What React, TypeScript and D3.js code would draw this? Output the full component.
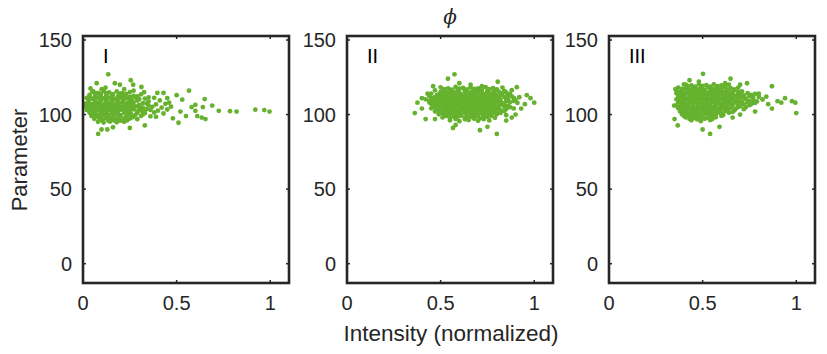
import React from "react"
import * as d3 from "d3"

// --- data ---
const xTicks = [0, 0.5, 1]
const yTicks = [0, 50, 100, 150]
const panelNames = ["I", "II", "III"]

const pointsI: [number, number][] = [
  [.05,115.3],[.08,114.6],[.11,115.8],[.14,114.9],[.18,115.5],[.21,114.4],[.25,115.1],
  [.035,113.2],[.065,112.6],[.095,113.5],[.125,112.8],[.155,113.4],[.19,112.7],[.23,113.1],[.27,112.5],[.31,113.6],
  [.02,111.1],[.05,110.6],[.08,111.4],[.11,110.8],[.14,111.2],[.17,110.5],[.2,111.3],[.24,110.9],[.28,111.5],[.33,110.7],[.38,111.2],
  [.03,109.2],[.065,108.6],[.095,109.4],[.125,108.8],[.155,109.1],[.185,108.5],[.215,109.3],[.25,108.7],[.29,109.4],[.35,108.9],[.41,109.5],
  [.015,107.3],[.045,106.8],[.075,107.5],[.105,106.6],[.135,107.2],[.165,106.9],[.195,107.4],[.225,106.7],[.26,107.1],[.3,106.5],[.34,107.4],[.39,106.8],[.44,107.2],
  [.03,105.2],[.06,104.7],[.09,105.4],[.12,104.8],[.15,105.3],[.18,104.6],[.21,105.1],[.245,104.9],[.28,105.5],[.32,104.6],[.37,105.2],[.42,104.7],[.47,105.3],
  [.02,103.1],[.05,102.6],[.08,103.4],[.11,102.8],[.14,103.2],[.17,102.5],[.2,103.3],[.235,102.9],[.27,103.5],[.31,102.7],[.36,103.1],[.4,102.6],[.45,103.4],
  [.035,101.2],[.065,100.7],[.095,101.4],[.125,100.6],[.155,101.1],[.185,100.8],[.22,101.3],[.255,100.6],[.29,101.2],[.33,100.9],[.38,101.4],[.43,100.7],
  [.045,99.1],[.075,98.6],[.105,99.3],[.135,98.8],[.165,99.4],[.2,98.7],[.235,99.2],[.27,98.5],[.31,99.1],[.36,98.8],
  [.06,97.2],[.09,96.6],[.12,97.4],[.15,96.8],[.18,97.1],[.215,96.5],[.25,97.3],[.29,96.9],
  [.08,95.1],[.11,94.6],[.145,95.3],[.18,94.8],[.22,95.2],
  [.135,127],[.073,121],[.17,121],[.197,120],[.255,123],[.268,120],[.312,118.5],[.326,115],[.397,114.5],[.43,114.5],
  [.566,116],[.5,113],[.53,110],[.58,105],[.6,106.5],[.64,105],[.69,106],[.65,110.4],[.055,115.5],[.012,105.5],
  [.081,87],[.099,90],[.13,90],[.16,91.5],[.25,91],[.33,92.7],[.51,94.5],[.654,97],[.634,98],[.61,99],
  [.725,102.5],[.785,102.3],[.82,102],[.92,103.3],[.968,103],[.996,102],[.1,117],[.04,117.5],[.22,117],[.35,111.5],
  [.46,108],[.52,102],[.55,99],[.48,97.5],[.6,102.5],[.45,111],[.39,98.5],[.27,116],[.12,118],
]

const denseI: [number, number][] = [
  [.065,114.2],[.095,113.8],[.125,114.3],[.16,113.7],[.195,114.1],[.23,113.9],
  [.035,112.1],[.065,111.7],[.095,112.3],[.125,111.8],[.155,112.2],[.185,111.6],[.215,112.4],[.25,111.9],[.29,112.1],
  [.035,110.3],[.065,109.8],[.095,110.2],[.125,109.6],[.155,110.4],[.185,109.9],[.22,110.1],[.26,109.7],[.3,110.3],
  [.03,108.1],[.06,107.7],[.09,108.4],[.12,107.9],[.15,108.2],[.18,107.6],[.21,108.3],[.24,107.8],[.27,108.1],[.32,107.7],
  [.015,106.2],[.045,105.8],[.075,106.3],[.105,105.7],[.135,106.1],[.165,105.9],[.195,106.4],[.23,105.8],[.26,106.2],[.3,105.7],[.35,106.1],
  [.035,104.1],[.065,103.7],[.095,104.3],[.125,103.8],[.155,104.2],[.19,103.6],[.22,104.1],[.26,103.9],[.3,104.3],[.34,103.7],
  [.035,102.2],[.065,101.8],[.095,102.1],[.125,101.6],[.155,102.3],[.185,101.9],[.22,102.2],[.25,101.7],[.29,102.1],[.33,101.8],
  [.05,100.1],[.08,99.7],[.11,100.3],[.14,99.8],[.17,100.2],[.2,99.6],[.24,100.1],[.28,99.8],[.32,100.2],
  [.065,98.1],[.095,97.7],[.125,98.2],[.155,97.8],[.19,98.3],[.225,97.9],[.26,98.1],
  [.1,96.1],[.135,95.8],[.165,96.2],[.2,95.9],[.235,96.1],
]

const pointsII: [number, number][] = [
  [.5,118.3],[.54,117.6],[.58,118.5],[.62,117.8],[.66,118.2],[.7,117.5],[.74,118.4],[.78,117.7],[.83,118.1],
  [.47,116.2],[.51,115.6],[.55,116.4],[.59,115.8],[.63,116.3],[.67,115.5],[.71,116.1],[.75,115.7],[.79,116.5],[.84,115.9],[.88,116.3],
  [.45,114.1],[.49,113.6],[.52,114.4],[.55,113.8],[.58,114.2],[.61,113.5],[.64,114.3],[.67,113.7],[.7,114.5],[.73,113.9],[.76,114.2],[.79,113.6],[.83,114.4],[.87,113.8],
  [.44,112.3],[.47,111.7],[.5,112.5],[.53,111.8],[.56,112.2],[.59,111.6],[.62,112.4],[.65,111.9],[.68,112.3],[.71,111.5],[.74,112.1],[.77,111.7],[.8,112.4],[.84,111.8],[.88,112.2],[.92,111.6],
  [.42,110.2],[.46,109.6],[.49,110.4],[.52,109.8],[.55,110.3],[.58,109.5],[.61,110.1],[.64,109.7],[.67,110.5],[.7,109.9],[.73,110.2],[.76,109.6],[.79,110.4],[.82,109.8],[.86,110.3],[.9,109.7],
  [.44,108.1],[.47,107.5],[.5,108.3],[.53,107.7],[.56,108.4],[.59,107.8],[.62,108.2],[.65,107.6],[.68,108.5],[.71,107.9],[.74,108.1],[.77,107.5],[.8,108.3],[.83,107.7],[.87,108.2],[.91,107.8],
  [.46,106.3],[.49,105.7],[.52,106.4],[.55,105.8],[.58,106.2],[.61,105.5],[.64,106.1],[.67,105.9],[.7,106.4],[.73,105.6],[.76,106.2],[.79,105.8],[.82,106.5],[.86,105.7],
  [.45,104.2],[.48,103.6],[.51,104.4],[.54,103.8],[.57,104.3],[.6,103.5],[.63,104.1],[.66,103.7],[.69,104.5],[.72,103.9],[.75,104.2],[.78,103.6],[.81,104.3],[.85,103.8],[.89,104.1],
  [.47,102.1],[.5,101.5],[.53,102.3],[.56,101.7],[.59,102.4],[.62,101.8],[.65,102.2],[.68,101.6],[.71,102.5],[.74,101.9],[.77,102.1],[.8,101.5],[.84,102.3],
  [.49,100.2],[.52,99.6],[.55,100.4],[.58,99.8],[.61,100.3],[.64,99.5],[.67,100.1],[.7,99.7],[.73,100.4],[.76,99.9],[.8,100.2],[.85,99.6],
  [.51,98.1],[.55,97.6],[.59,98.3],[.63,97.7],[.67,98.2],[.71,97.5],[.75,98.4],[.79,97.8],
  [.55,96.2],[.6,95.6],[.65,96.3],[.7,95.8],[.76,96.1],
  [.362,101],[.376,108],[.574,127],[.539,124],[.805,122],[.907,118.4],[1.0,108],[.98,111],[.96,113],[.8,87],
  [.71,89.5],[.566,91],[.75,91.8],[.58,93],[.46,119],[.43,114],[.42,97],[.47,97],[.4,104],[.93,104],
  [.95,107],[.9,100],[.66,120],[.72,119],[.6,121],[.85,96],[.88,98],[.4,111],
]

const denseII: [number, number][] = [
  [.52,117.1],[.56,116.7],[.6,117.3],[.64,116.8],[.68,117.2],[.72,116.6],[.76,117.1],[.8,116.9],
  [.5,115.2],[.53,114.8],[.57,115.1],[.6,114.7],[.63,115.3],[.66,114.9],[.69,115.2],[.72,114.6],[.75,115.1],[.78,114.8],[.81,115.3],[.85,114.9],
  [.48,113.1],[.51,112.7],[.54,113.3],[.57,112.8],[.6,113.2],[.63,112.6],[.66,113.1],[.69,112.9],[.72,113.3],[.75,112.7],[.78,113.1],[.82,112.8],[.86,113.2],
  [.45,111.2],[.48,110.8],[.51,111.1],[.54,110.6],[.57,111.3],[.6,110.9],[.63,111.2],[.66,110.7],[.69,111.1],[.72,110.8],[.75,111.3],[.78,110.9],[.81,111.1],[.85,110.7],[.89,111.2],
  [.44,109.1],[.48,108.7],[.51,109.3],[.54,108.8],[.57,109.2],[.6,108.6],[.63,109.1],[.66,108.9],[.69,109.3],[.72,108.7],[.75,109.1],[.78,108.8],[.81,109.2],[.85,108.9],[.89,109.1],
  [.45,107.2],[.48,106.8],[.51,107.1],[.54,106.7],[.57,107.3],[.6,106.9],[.63,107.2],[.66,106.6],[.69,107.1],[.72,106.8],[.75,107.3],[.78,106.9],[.81,107.1],[.84,106.7],
  [.47,105.1],[.5,104.7],[.53,105.2],[.56,104.8],[.59,105.3],[.62,104.9],[.65,105.1],[.68,104.6],[.71,105.2],[.74,104.8],[.77,105.1],[.8,104.7],[.84,105.2],[.87,104.9],
  [.49,103.2],[.52,102.8],[.55,103.1],[.58,102.7],[.61,103.3],[.64,102.9],[.67,103.1],[.7,102.6],[.73,103.2],[.76,102.8],[.79,103.1],[.82,102.9],
  [.51,101.1],[.54,100.7],[.57,101.2],[.6,100.8],[.63,101.3],[.66,100.9],[.69,101.1],[.72,100.6],[.75,101.2],[.78,100.8],[.82,101.1],
  [.53,99.1],[.57,98.7],[.61,99.2],[.65,98.8],[.69,99.1],[.73,98.7],[.77,99.2],
  [.58,97.1],[.63,96.8],[.68,97.2],[.73,96.9],
]

const pointsIII: [number, number][] = [
  [.4,120.2],[.44,119.6],[.48,120.4],[.52,119.8],[.56,120.3],[.6,119.5],[.64,120.1],
  [.37,118.1],[.41,117.6],[.45,118.4],[.49,117.8],[.53,118.2],[.57,117.5],[.61,118.3],[.65,117.7],[.69,118.1],
  [.36,116.2],[.39,115.6],[.42,116.4],[.45,115.8],[.48,116.3],[.51,115.5],[.54,116.1],[.57,115.7],[.6,116.5],[.63,115.9],[.67,116.2],[.71,115.6],
  [.36,114.3],[.39,113.7],[.42,114.5],[.45,113.8],[.48,114.2],[.51,113.6],[.54,114.4],[.57,113.9],[.6,114.3],[.63,113.5],[.66,114.1],[.7,113.7],[.74,114.4],[.78,113.8],
  [.37,112.1],[.4,111.6],[.43,112.4],[.46,111.8],[.49,112.3],[.52,111.5],[.55,112.2],[.58,111.7],[.61,112.5],[.64,111.9],[.67,112.1],[.71,111.6],[.75,112.3],[.8,111.8],
  [.36,110.2],[.39,109.6],[.42,110.4],[.45,109.8],[.48,110.3],[.51,109.5],[.54,110.1],[.57,109.7],[.6,110.5],[.63,109.9],[.66,110.2],[.69,109.6],[.73,110.4],[.77,109.8],[.82,110.1],
  [.37,108.3],[.4,107.7],[.43,108.5],[.46,107.8],[.49,108.2],[.52,107.6],[.55,108.4],[.58,107.9],[.61,108.1],[.64,107.5],[.67,108.3],[.7,107.7],[.74,108.2],[.78,107.8],
  [.36,106.1],[.39,105.6],[.42,106.4],[.45,105.8],[.48,106.3],[.51,105.5],[.54,106.2],[.57,105.7],[.6,106.4],[.63,105.9],[.66,106.1],[.7,105.6],[.75,106.3],
  [.37,104.2],[.4,103.6],[.43,104.4],[.46,103.8],[.49,104.3],[.52,103.5],[.55,104.1],[.58,103.7],[.61,104.5],[.64,103.9],[.68,104.2],[.72,103.6],
  [.38,102.1],[.41,101.5],[.44,102.3],[.47,101.7],[.5,102.4],[.53,101.8],[.56,102.2],[.59,101.6],[.62,102.3],[.66,101.8],
  [.39,100.2],[.42,99.6],[.45,100.4],[.48,99.8],[.51,100.3],[.54,99.5],[.57,100.1],[.61,99.7],
  [.41,98.1],[.45,97.6],[.49,98.3],[.53,97.7],[.57,98.2],
  [.44,96.2],[.49,95.6],[.54,96.3],
  [.502,127.3],[.649,124],[.737,121],[.87,119],[.94,111],[.977,109],[.995,108],[1.0,101],[.92,108],[.9,109],
  [.87,104],[.367,92.7],[.5,90],[.54,87],[.59,91.8],[.41,120],[.43,123],[.355,117],[.348,106],[.35,97],
  [.8,114],[.84,112],[.78,102],[.85,107],[.7,120],[.62,121],[.48,122],[.66,98],[.7,100],
]

const denseIII: [number, number][] = [
  [.42,119.1],[.46,118.7],[.5,119.2],[.54,118.8],[.58,119.1],[.62,118.6],
  [.39,117.2],[.43,116.8],[.47,117.1],[.51,116.7],[.55,117.3],[.59,116.9],[.63,117.1],[.67,116.8],
  [.375,115.1],[.405,114.7],[.435,115.2],[.465,114.8],[.495,115.1],[.525,114.6],[.555,115.3],[.585,114.9],[.615,115.1],[.65,114.8],[.69,115.2],
  [.375,113.2],[.405,112.8],[.435,113.1],[.465,112.7],[.495,113.3],[.525,112.9],[.555,113.1],[.585,112.6],[.615,113.2],[.65,112.8],[.685,113.1],[.72,112.9],[.76,113.2],
  [.38,111.1],[.41,110.7],[.44,111.2],[.47,110.8],[.5,111.1],[.53,110.6],[.56,111.3],[.59,110.9],[.62,111.1],[.655,110.8],[.69,111.2],[.73,110.7],[.77,111.1],
  [.375,109.2],[.405,108.8],[.435,109.1],[.465,108.7],[.495,109.3],[.525,108.9],[.555,109.1],[.585,108.6],[.615,109.2],[.645,108.8],[.675,109.1],[.71,108.9],[.75,109.2],[.79,108.8],
  [.385,107.1],[.415,106.7],[.445,107.2],[.475,106.8],[.505,107.1],[.535,106.6],[.565,107.3],[.595,106.9],[.625,107.1],[.655,106.8],[.685,107.2],[.72,106.9],[.76,107.1],
  [.38,105.2],[.41,104.8],[.44,105.1],[.47,104.7],[.5,105.3],[.53,104.9],[.56,105.1],[.59,104.6],[.62,105.2],[.655,104.8],[.69,105.1],[.73,104.9],
  [.385,103.1],[.415,102.7],[.445,103.2],[.475,102.8],[.505,103.1],[.535,102.6],[.565,103.3],[.595,102.9],[.63,103.1],[.67,102.8],
  [.395,101.2],[.425,100.8],[.455,101.1],[.485,100.7],[.515,101.3],[.545,100.9],[.575,101.1],[.6,100.6],[.64,101.2],
  [.4,99.1],[.435,98.7],[.47,99.2],[.5,98.8],[.53,99.1],[.56,98.7],[.6,99.2],
  [.43,97.1],[.47,96.8],[.51,97.2],[.55,96.9],
]

const allPoints = [pointsI.concat(denseI), pointsII.concat(denseII), pointsIII.concat(denseIII)]

// --- layout ---
const W = 827
const H = 354
const panelLeft = [83, 347, 609]
const panelW = 206
const top = 36
const bottom = 283
const ink = "#262626"
const green = "#66b22f"
const sans = "'Liberation Sans', Arial, sans-serif"

const yScale = d3.scaleLinear().domain([0, 150]).range([263.7, 40])

function Panel({ left, name, points }: { left: number; name: string; points: [number, number][] }) {
  const x = d3.scaleLinear().domain([0, 1.1]).range([left, left + panelW])
  const right = left + panelW
  return (
    <g>
      {points.map((p, i) => (
        <circle key={i} cx={x(p[0])} cy={yScale(p[1])} r={2.4} fill={green} />
      ))}
      {/* inner ticks */}
      {yTicks.map((t) => (
        <g key={"y" + t} stroke={ink} strokeWidth={1.5}>
          <line x1={left} x2={left + 3} y1={yScale(t)} y2={yScale(t)} />
          <line x1={right} x2={right - 3} y1={yScale(t)} y2={yScale(t)} />
        </g>
      ))}
      {xTicks.map((t) => (
        <g key={"x" + t} stroke={ink} strokeWidth={1.5}>
          <line x1={x(t)} x2={x(t)} y1={bottom} y2={bottom - 3} />
          <line x1={x(t)} x2={x(t)} y1={top} y2={top + 3} />
        </g>
      ))}
      <rect x={left} y={top} width={panelW} height={bottom - top} fill="none" stroke={ink} strokeWidth={2.6} />
      {yTicks.map((t) => (
        <text key={"yl" + t} x={left - 11} y={yScale(t) + 7} textAnchor="end" fontSize={20} fill={ink} fontFamily={sans}>
          {t}
        </text>
      ))}
      {xTicks.map((t) => (
        <text key={"xl" + t} x={x(t)} y={310} textAnchor="middle" fontSize={20} fill={ink} fontFamily={sans}>
          {t}
        </text>
      ))}
      <text x={left + 20} y={63} fontSize={20} fill="#000" fontFamily={sans}>
        {name}
      </text>
    </g>
  )
}

export default function App() {
  return (
    <svg width={W} height={H} style={{ position: "absolute", left: 0, top: 0, background: "#fff" }}>
      {allPoints.map((pts, i) => (
        <Panel key={i} left={panelLeft[i]} name={panelNames[i]} points={pts} />
      ))}
      <text x={450} y={24} textAnchor="middle" fontSize={20} fontStyle="italic" fontFamily="'DejaVu Serif', serif" fill={ink}>
        ϕ
      </text>
      <text x={451} y={341} textAnchor="middle" fontSize={22.5} fill={ink} fontFamily={sans}>
        Intensity (normalized)
      </text>
      <text transform="translate(27,160) rotate(-90)" textAnchor="middle" fontSize={22} fill={ink} fontFamily={sans}>
        Parameter
      </text>
    </svg>
  )
}
